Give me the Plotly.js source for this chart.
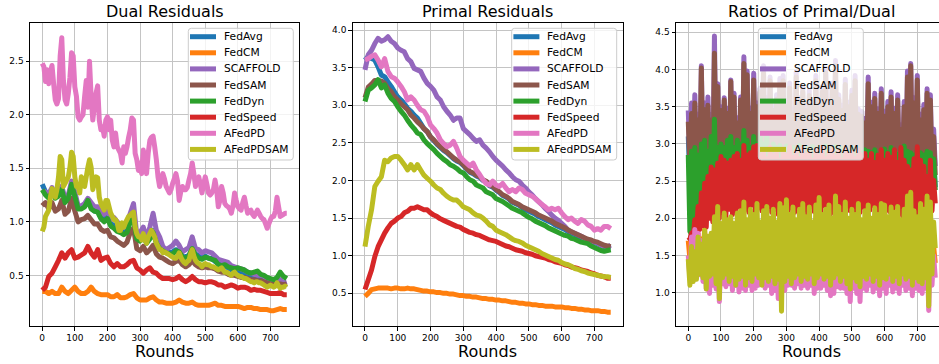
<!DOCTYPE html>
<html><head><meta charset="utf-8">
<script src="https://cdn.plot.ly/plotly-3.0.1.min.js"></script>
<style>
html,body{margin:0;padding:0;background:#fff}
#chart{width:939px;height:364px}
.js-line{stroke-linejoin:round !important}
</style>
</head><body><div id="chart"></div>
<script>
// ---------------- names / colours ----------------
const methods = ['FedAvg','FedCM','SCAFFOLD','FedSAM','FedDyn','FedSpeed','AFedPD','AFedPDSAM'];
const colors  = ['#1f77b4','#ff7f0e','#9467bd','#8c564b','#2ca02c','#d62728','#e377c2','#bcbd22'];
const panelTitles = ['Dual Residuals','Primal Residuals','Ratios of Primal/Dual'];
const xLabel = 'Rounds';
const roundTicks = [0,100,200,300,400,500,600,700];
const dualTicks = [0.5,1.0,1.5,2.0,2.5];
const primalTicks = [0.5,1.0,1.5,2.0,2.5,3.0,3.5,4.0];
const ratioTicks = [1.0,1.5,2.0,2.5,3.0,3.5,4.0,4.5];

// rounds sampled every 10 / every 5
const rounds10 = []; for (let r = 0; r <= 750; r += 10) rounds10.push(r);
const rounds5 = [];  for (let r = 0; r <= 750; r += 5) rounds5.push(r);

// ---------------- Dual residuals ----------------
const dualFedAvg = [1.35,1.28,1.25,1.30,1.23,1.25,1.30,1.20,1.23,1.35,
 1.25,1.13,1.13,1.15,1.20,1.14,1.10,1.10,1.04,1.02,
 1.05,0.98,0.97,0.93,0.92,0.90,0.92,1.02,1.06,0.85,
 0.83,0.88,0.81,0.86,0.92,0.82,0.77,0.74,0.72,0.71,
 0.72,0.74,0.73,0.68,0.67,0.69,0.74,0.70,0.68,0.66,
 0.68,0.66,0.66,0.63,0.61,0.60,0.59,0.57,0.55,0.54,
 0.53,0.52,0.51,0.50,0.49,0.48,0.47,0.47,0.46,0.44,
 0.43,0.42,0.42,0.43,0.41,0.42];
const dualFedCM = [0.35,0.35,0.33,0.35,0.33,0.33,0.39,0.35,0.33,0.36,
 0.39,0.35,0.33,0.33,0.35,0.39,0.35,0.33,0.32,0.32,
 0.32,0.30,0.30,0.32,0.29,0.29,0.30,0.32,0.33,0.29,
 0.27,0.27,0.27,0.29,0.30,0.27,0.25,0.25,0.24,0.24,
 0.24,0.25,0.27,0.25,0.24,0.24,0.25,0.23,0.22,0.22,
 0.22,0.22,0.23,0.24,0.22,0.22,0.21,0.21,0.21,0.21,
 0.21,0.20,0.19,0.20,0.20,0.19,0.19,0.18,0.18,0.18,
 0.17,0.17,0.18,0.19,0.18,0.18];
const dualSCAFFOLD = [1.28,1.28,1.26,1.32,1.25,1.27,1.33,1.22,1.25,1.38,
 1.28,1.15,1.15,1.17,1.22,1.18,1.14,1.14,1.08,1.07,
 1.12,1.02,1.04,1.00,0.97,0.95,0.99,1.08,1.17,0.88,
 0.90,0.95,0.85,0.95,1.08,0.92,0.86,0.77,0.74,0.76,
 0.78,0.82,0.78,0.72,0.74,0.76,0.86,0.75,0.74,0.71,
 0.73,0.72,0.71,0.68,0.65,0.64,0.63,0.62,0.59,0.58,
 0.57,0.56,0.55,0.53,0.52,0.51,0.50,0.50,0.49,0.46,
 0.45,0.44,0.44,0.46,0.43,0.44];
const dualFedSAM = [1.15,1.18,1.12,1.18,1.10,1.12,1.20,1.07,1.10,1.22,
 1.10,1.00,1.02,1.03,1.06,1.02,0.98,0.98,0.93,0.91,
 0.92,0.86,0.85,0.82,0.80,0.78,0.81,0.90,0.94,0.75,
 0.73,0.77,0.71,0.74,0.78,0.70,0.67,0.66,0.64,0.62,
 0.61,0.63,0.64,0.60,0.58,0.60,0.64,0.60,0.58,0.57,
 0.58,0.57,0.57,0.56,0.54,0.53,0.53,0.51,0.50,0.50,
 0.49,0.48,0.48,0.47,0.46,0.46,0.45,0.45,0.44,0.43,
 0.42,0.42,0.41,0.42,0.41,0.42];
const dualFedDyn = [1.30,1.25,1.22,1.28,1.22,1.24,1.30,1.18,1.22,1.35,
 1.24,1.12,1.12,1.14,1.20,1.12,1.10,1.09,1.03,1.00,
 1.03,0.96,0.94,0.91,0.90,0.88,0.90,1.00,1.04,0.84,
 0.82,0.86,0.80,0.84,0.90,0.80,0.75,0.73,0.71,0.70,
 0.70,0.73,0.72,0.67,0.66,0.68,0.75,0.69,0.66,0.65,
 0.67,0.66,0.65,0.64,0.60,0.59,0.60,0.58,0.57,0.56,
 0.57,0.56,0.55,0.53,0.52,0.53,0.54,0.51,0.50,0.48,
 0.47,0.46,0.48,0.53,0.49,0.47];
const dualFedSpeed = [0.36,0.39,0.49,0.52,0.58,0.64,0.71,0.66,0.71,0.74,
 0.66,0.67,0.69,0.71,0.77,0.71,0.67,0.74,0.64,0.66,
 0.67,0.61,0.58,0.61,0.58,0.58,0.60,0.63,0.64,0.57,
 0.55,0.52,0.55,0.57,0.53,0.52,0.49,0.47,0.47,0.47,
 0.46,0.47,0.49,0.46,0.44,0.46,0.49,0.46,0.44,0.44,
 0.43,0.44,0.44,0.43,0.41,0.41,0.39,0.40,0.41,0.40,
 0.38,0.39,0.39,0.38,0.36,0.37,0.36,0.36,0.35,0.34,
 0.33,0.33,0.33,0.34,0.32,0.32];
// sampled every 5 rounds
const dualAFedPD = [2.48,2.45,2.31,2.42,2.29,2.40,2.46,2.29,2.14,2.10,
 2.15,2.55,2.72,2.32,2.14,2.10,2.20,2.35,2.58,2.55,
 2.26,2.17,1.98,1.95,1.98,2.00,2.17,2.32,2.07,2.50,
 2.17,1.95,2.07,2.20,2.27,1.95,1.86,1.89,1.80,1.95,
 1.98,1.86,1.95,1.76,1.70,1.83,1.70,1.67,1.64,1.55,
 1.70,1.64,1.70,1.79,1.86,1.97,1.95,1.64,1.58,1.48,
 1.55,1.45,1.67,1.58,1.45,1.64,1.76,1.79,1.80,1.70,
 1.58,1.42,1.33,1.38,1.45,1.40,1.33,1.30,1.27,1.30,
 1.36,1.40,1.45,1.38,1.20,1.28,1.33,1.30,1.30,1.32,
 1.39,1.45,1.55,1.45,1.33,1.38,1.42,1.35,1.27,1.35,
 1.42,1.35,1.27,1.25,1.27,1.30,1.39,1.30,1.14,1.20,
 1.33,1.27,1.17,1.15,1.14,1.12,1.08,1.15,1.27,1.20,
 1.14,1.12,1.11,1.18,1.23,1.15,1.08,1.10,1.11,1.07,
 1.05,1.08,1.11,1.08,1.05,1.03,1.02,0.98,0.94,0.98,
 1.02,1.05,1.05,1.10,1.23,1.14,1.05,1.06,1.07,1.08,
 1.08];
const dualAFedPDSAM = [0.91,0.95,1.05,1.08,1.11,1.23,1.31,1.27,1.23,1.30,
 1.42,1.61,1.58,1.33,1.36,1.39,1.42,1.51,1.65,1.61,
 1.42,1.33,1.33,1.27,1.42,1.39,1.33,1.42,1.51,1.58,
 1.51,1.30,1.36,1.42,1.41,1.23,1.17,1.14,1.11,1.20,
 1.20,1.14,1.08,1.05,1.02,1.02,0.99,0.92,0.92,0.99,
 0.95,0.99,1.02,1.05,1.06,1.08,1.09,0.95,0.89,0.86,
 0.86,0.83,0.89,0.83,0.80,0.86,0.89,0.92,0.89,0.86,
 0.80,0.77,0.74,0.74,0.71,0.72,0.71,0.70,0.69,0.68,
 0.67,0.66,0.66,0.68,0.71,0.67,0.64,0.62,0.61,0.63,
 0.64,0.70,0.74,0.68,0.64,0.62,0.61,0.60,0.58,0.60,
 0.61,0.60,0.60,0.59,0.58,0.58,0.57,0.56,0.55,0.56,
 0.57,0.55,0.53,0.53,0.52,0.51,0.50,0.52,0.53,0.51,
 0.50,0.49,0.49,0.48,0.47,0.47,0.46,0.45,0.44,0.44,
 0.43,0.44,0.44,0.43,0.43,0.42,0.41,0.40,0.39,0.40,
 0.41,0.40,0.39,0.40,0.43,0.40,0.38,0.39,0.39,0.40,
 0.39];

// ---------------- Primal residuals (every 10 rounds) ----------------
const primalFedAvg = [3.60,3.65,3.62,3.60,3.51,3.40,3.38,3.31,3.25,3.18,
 3.11,3.07,3.02,2.96,2.92,2.87,2.83,2.76,2.69,2.65,
 2.58,2.53,2.48,2.44,2.40,2.37,2.33,2.29,2.26,2.24,
 2.20,2.15,2.11,2.09,2.06,2.04,2.00,1.98,1.93,1.91,
 1.87,1.84,1.80,1.78,1.75,1.71,1.69,1.67,1.64,1.61,
 1.59,1.57,1.55,1.52,1.50,1.48,1.46,1.44,1.41,1.39,
 1.37,1.35,1.32,1.30,1.28,1.26,1.24,1.22,1.20,1.19,
 1.17,1.16,1.14,1.12,1.11,1.10];
const primalFedCM = [0.46,0.50,0.55,0.56,0.57,0.57,0.57,0.57,0.56,0.57,
 0.57,0.56,0.56,0.57,0.56,0.56,0.55,0.54,0.53,0.53,
 0.52,0.52,0.51,0.51,0.50,0.50,0.49,0.49,0.48,0.47,
 0.47,0.46,0.46,0.45,0.45,0.44,0.43,0.43,0.42,0.42,
 0.41,0.41,0.40,0.40,0.39,0.38,0.38,0.37,0.37,0.36,
 0.36,0.35,0.35,0.34,0.34,0.33,0.33,0.33,0.32,0.32,
 0.32,0.31,0.31,0.30,0.30,0.29,0.29,0.28,0.28,0.27,
 0.27,0.27,0.26,0.26,0.25,0.25];
const primalSCAFFOLD = [3.47,3.67,3.73,3.82,3.89,3.85,3.87,3.91,3.85,3.82,
 3.76,3.73,3.71,3.62,3.58,3.49,3.47,3.45,3.36,3.29,
 3.25,3.20,3.11,3.07,2.98,2.92,2.87,2.80,2.83,2.83,
 2.69,2.65,2.61,2.56,2.52,2.54,2.47,2.43,2.38,2.32,
 2.27,2.23,2.19,2.14,2.10,2.05,2.01,1.99,1.94,1.90,
 1.85,1.81,1.76,1.72,1.68,1.63,1.59,1.54,1.50,1.47,
 1.43,1.39,1.34,1.32,1.30,1.28,1.26,1.23,1.21,1.20,
 1.18,1.17,1.14,1.13,1.12,1.14];
const primalFedSAM = [3.10,3.24,3.28,3.33,3.33,3.32,3.29,3.22,3.18,3.11,
 3.07,3.02,2.98,2.94,2.87,2.83,2.78,2.74,2.69,2.65,
 2.58,2.54,2.49,2.45,2.41,2.38,2.34,2.30,2.27,2.25,
 2.21,2.16,2.12,2.10,2.07,2.05,2.01,1.99,1.94,1.92,
 1.88,1.85,1.81,1.79,1.76,1.72,1.70,1.68,1.65,1.63,
 1.61,1.59,1.57,1.54,1.52,1.50,1.48,1.46,1.43,1.41,
 1.39,1.37,1.34,1.32,1.30,1.28,1.26,1.24,1.22,1.21,
 1.19,1.18,1.16,1.14,1.13,1.12];
const primalFedDyn = [3.05,3.20,3.23,3.27,3.34,3.23,3.27,3.16,3.09,3.05,
 2.98,2.92,2.87,2.80,2.74,2.69,2.63,2.61,2.54,2.49,
 2.45,2.41,2.36,2.32,2.28,2.25,2.21,2.19,2.16,2.12,
 2.10,2.05,2.01,1.99,1.94,1.92,1.90,1.85,1.83,1.81,
 1.76,1.74,1.72,1.69,1.66,1.63,1.61,1.59,1.57,1.54,
 1.51,1.49,1.46,1.44,1.42,1.40,1.37,1.35,1.33,1.31,
 1.29,1.27,1.26,1.23,1.22,1.20,1.18,1.17,1.16,1.13,
 1.11,1.09,1.07,1.06,1.07,1.08];
const primalFedSpeed = [0.55,0.68,0.81,0.99,1.12,1.21,1.30,1.37,1.43,1.46,
 1.50,1.52,1.57,1.59,1.63,1.63,1.65,1.63,1.61,1.61,
 1.57,1.54,1.52,1.49,1.47,1.45,1.43,1.41,1.39,1.38,
 1.35,1.33,1.31,1.30,1.28,1.27,1.25,1.23,1.21,1.20,
 1.19,1.17,1.15,1.13,1.12,1.10,1.08,1.07,1.06,1.04,
 1.03,1.02,1.00,0.99,0.98,0.97,0.95,0.94,0.92,0.91,
 0.90,0.88,0.87,0.85,0.84,0.83,0.81,0.80,0.79,0.77,
 0.76,0.74,0.73,0.72,0.70,0.70];
const primalAFedPD = [3.60,3.62,3.65,3.67,3.60,3.51,3.62,3.45,3.38,3.36,
 3.31,3.25,3.18,3.07,3.11,3.07,3.00,2.94,2.92,2.85,
 2.74,2.69,2.63,2.54,2.49,2.45,2.47,2.52,2.43,2.32,
 2.27,2.23,2.19,2.23,2.14,2.08,2.01,1.96,1.94,1.99,
 1.94,1.92,1.96,1.90,1.85,1.88,1.85,1.90,1.88,1.83,
 1.81,1.79,1.76,1.72,1.68,1.65,1.61,1.63,1.61,1.63,
 1.57,1.52,1.48,1.50,1.46,1.43,1.48,1.46,1.41,1.39,
 1.34,1.36,1.34,1.39,1.39,1.36];
const primalAFedPDSAM = [1.12,1.39,1.61,1.92,1.99,2.05,2.27,2.25,2.30,2.32,
 2.32,2.27,2.21,2.14,2.21,2.14,2.21,2.14,2.07,2.03,
 1.99,1.94,1.90,1.88,1.83,1.79,1.76,1.74,1.74,1.70,
 1.65,1.63,1.61,1.57,1.54,1.53,1.50,1.46,1.41,1.39,
 1.34,1.32,1.30,1.28,1.25,1.22,1.20,1.19,1.17,1.14,
 1.12,1.10,1.08,1.06,1.03,1.01,0.99,0.97,0.95,0.94,
 0.91,0.89,0.88,0.86,0.83,0.82,0.80,0.79,0.77,0.76,
 0.75,0.74,0.73,0.72,0.72,0.71];

// ---------------- Ratios primal/dual: peaks (rounds 0,10,..) and troughs (rounds 5,15,..) ----------------
const ratioFedAvgHigh = [3.10,3.05,3.20,3.00,3.30,3.10,3.15,3.00,3.35,3.20,
 3.05,3.15,3.00,3.25,3.10,3.00,3.15,3.30,3.20,3.05,
 3.20,3.10,3.15,3.30,3.05,3.20,3.00,3.10,3.20,3.25,
 3.05,3.15,3.00,3.25,3.10,3.15,3.05,3.10,3.00,3.20,
 3.00,3.10,3.25,3.05,3.15,3.30,3.10,3.00,3.20,3.05,
 3.10,3.20,3.00,3.00,2.95,3.20,3.05,3.10,3.00,3.15,
 3.00,3.05,3.15,3.00,3.10,2.95,3.05,3.20,3.30,3.05,
 3.20,2.95,3.00,3.15,3.10,2.85];
const ratioFedAvgLow = [2.50,2.45,2.55,2.42,2.48,2.52,2.40,2.50,2.46,2.55,
 2.44,2.50,2.58,2.42,2.47,2.53,2.41,2.49,2.55,2.45,
 2.50,2.43,2.52,2.47,2.40,2.55,2.48,2.44,2.51,2.46,
 2.42,2.53,2.49,2.45,2.56,2.41,2.50,2.47,2.43,2.52,
 2.48,2.44,2.55,2.46,2.42,2.51,2.49,2.45,2.53,2.40,
 2.50,2.47,2.44,2.52,2.46,2.42,2.55,2.48,2.44,2.50,
 2.47,2.43,2.53,2.45,2.49,2.41,2.51,2.46,2.44,2.52,
 2.48,2.43,2.50,2.45,2.47,2.42];
const ratioFedCMHigh = [1.70,1.75,1.65,1.80,1.72,1.85,1.68,1.78,1.82,1.90,
 1.74,1.80,1.70,1.85,1.76,1.68,1.82,1.88,1.72,1.80,
 1.75,1.86,1.70,1.78,1.84,1.72,1.80,1.68,1.85,1.78,
 1.90,1.74,1.82,1.70,1.80,1.86,1.72,1.78,1.68,1.84,
 1.88,1.74,1.80,1.85,1.70,1.90,1.78,1.72,1.86,1.70,
 1.80,1.74,1.84,1.68,1.78,1.82,1.70,1.80,1.74,1.85,
 1.86,1.72,1.80,1.76,1.84,1.68,1.78,1.88,1.90,1.75,
 1.70,1.82,1.76,1.85,1.80,1.62];
const ratioFedCMLow = [1.45,1.40,1.50,1.42,1.48,1.38,1.52,1.44,1.40,1.47,
 1.50,1.42,1.38,1.46,1.53,1.41,1.45,1.49,1.40,1.44,
 1.51,1.43,1.47,1.39,1.45,1.50,1.42,1.46,1.40,1.48,
 1.44,1.52,1.41,1.47,1.43,1.38,1.49,1.45,1.42,1.50,
 1.46,1.40,1.48,1.43,1.51,1.39,1.45,1.47,1.41,1.44,
 1.50,1.42,1.46,1.38,1.49,1.44,1.40,1.47,1.43,1.52,
 1.45,1.41,1.48,1.44,1.39,1.46,1.50,1.42,1.45,1.40,
 1.47,1.43,1.38,1.46,1.42,1.40];
const ratioSCAFFOLDHigh = [3.45,3.55,3.66,3.40,4.05,3.55,3.63,3.40,4.45,3.81,
 3.50,3.62,3.48,3.86,3.68,3.35,3.63,4.17,3.98,3.48,
 3.95,3.55,3.75,4.05,3.62,3.90,3.52,3.66,3.88,3.92,
 3.58,3.82,3.46,3.97,3.62,3.76,3.52,3.72,3.56,3.92,
 3.47,3.77,4.02,3.57,3.82,4.12,3.66,3.52,3.87,3.56,
 3.72,3.92,3.47,3.44,3.34,3.90,3.56,3.68,3.47,3.74,
 3.44,3.57,3.70,3.48,3.66,3.25,3.57,3.98,4.08,3.62,
 3.92,3.40,3.53,3.74,3.66,3.20];
const ratioSCAFFOLDLow = [2.75,2.65,2.70,2.60,2.72,2.58,2.68,2.62,2.74,2.66,
 2.60,2.70,2.64,2.76,2.58,2.68,2.62,2.72,2.66,2.60,
 2.70,2.64,2.58,2.74,2.66,2.62,2.70,2.60,2.68,2.64,
 2.72,2.58,2.66,2.70,2.62,2.74,2.60,2.68,2.64,2.70,
 2.58,2.66,2.72,2.62,2.68,2.60,2.74,2.64,2.70,2.58,
 2.66,2.62,2.72,2.68,2.60,2.70,2.64,2.58,2.74,2.66,
 2.62,2.70,2.60,2.68,2.64,2.72,2.58,2.66,2.70,2.62,
 2.68,2.60,2.74,2.64,2.66,2.70];
const ratioFedSAMHigh = [3.30,3.41,3.55,3.32,4.02,3.46,3.52,3.32,4.22,3.77,
 3.45,3.59,3.41,3.84,3.63,3.28,3.59,4.08,3.93,3.41,
 3.86,3.50,3.70,3.95,3.55,3.85,3.45,3.60,3.80,3.85,
 3.50,3.75,3.40,3.90,3.55,3.70,3.45,3.65,3.50,3.85,
 3.40,3.70,3.95,3.50,3.75,4.05,3.60,3.45,3.80,3.50,
 3.65,3.85,3.40,3.37,3.28,3.81,3.50,3.61,3.41,3.68,
 3.37,3.50,3.63,3.41,3.59,3.19,3.50,3.90,4.05,3.55,
 3.86,3.32,3.46,3.68,3.59,3.10];
const ratioFedSAMLow = [2.70,2.60,2.55,2.66,2.50,2.62,2.56,2.47,2.61,2.52,
 2.57,2.67,2.49,2.60,2.54,2.46,2.63,2.55,2.51,2.66,
 2.53,2.48,2.61,2.45,2.57,2.64,2.50,2.59,2.55,2.48,
 2.62,2.46,2.56,2.65,2.51,2.58,2.54,2.49,2.61,2.45,
 2.56,2.66,2.52,2.60,2.53,2.48,2.62,2.47,2.57,2.64,
 2.50,2.59,2.55,2.49,2.61,2.46,2.56,2.65,2.51,2.60,
 2.54,2.50,2.62,2.47,2.57,2.66,2.52,2.60,2.55,2.48,
 2.61,2.46,2.56,2.64,2.52,2.58];
const ratioFedDynHigh = [2.85,2.90,2.95,2.85,3.00,3.05,2.90,3.10,3.33,2.95,
 3.00,2.95,3.05,3.10,2.95,3.05,3.00,3.18,3.05,2.95,
 3.10,3.00,3.12,3.00,3.10,2.95,3.00,2.95,2.98,2.92,
 2.97,2.90,2.95,2.92,2.98,2.90,2.95,2.92,2.96,2.90,
 2.95,2.92,2.97,2.90,2.93,2.96,2.90,2.94,2.92,2.88,
 2.95,2.90,2.93,2.88,2.92,2.90,2.88,2.92,2.86,2.90,
 2.93,2.88,2.95,2.90,2.86,2.92,2.97,2.90,2.88,2.85,
 2.92,2.88,2.85,2.90,2.88,2.80];
const ratioFedDynLow = [1.82,1.88,1.95,2.05,2.10,2.15,2.20,2.25,2.28,2.30,
 2.35,2.32,2.40,2.36,2.33,2.42,2.38,2.34,2.41,2.37,
 2.33,2.40,2.36,2.43,2.35,2.38,2.32,2.41,2.37,2.34,
 2.42,2.36,2.39,2.33,2.40,2.35,2.43,2.37,2.34,2.41,
 2.38,2.32,2.40,2.36,2.42,2.34,2.39,2.37,2.33,2.41,
 2.36,2.40,2.34,2.42,2.38,2.33,2.40,2.36,2.43,2.35,
 2.39,2.32,2.41,2.37,2.34,2.40,2.36,2.42,2.35,2.38,
 2.33,2.41,2.37,2.34,2.40,2.38];
const ratioFedSpeedHigh = [1.70,1.80,1.98,2.16,2.34,2.47,2.56,2.69,2.65,2.74,
 2.83,2.78,2.74,2.78,2.83,2.87,2.78,2.98,2.85,2.88,
 2.96,2.98,2.85,2.92,2.80,2.95,2.85,2.90,2.78,2.93,
 2.85,2.96,2.82,2.90,2.80,2.94,2.85,2.88,2.78,2.92,
 2.83,2.95,2.80,2.88,2.92,2.82,2.90,2.78,2.94,2.85,
 2.88,2.80,2.92,2.85,2.87,2.78,2.87,2.75,2.85,2.92,
 2.78,2.87,2.82,2.92,2.75,2.95,2.78,2.70,2.65,2.80,
 2.96,2.78,2.70,2.56,2.78,2.51];
const ratioFedSpeedLow = [1.72,1.75,1.80,1.85,1.90,1.88,2.00,1.95,2.05,2.00,
 2.08,2.02,2.12,2.05,2.10,2.15,2.04,2.12,2.08,2.18,
 2.06,2.14,2.10,2.03,2.16,2.08,2.12,2.05,2.18,2.10,
 2.04,2.14,2.08,2.16,2.06,2.12,2.02,2.15,2.09,2.13,
 2.05,2.17,2.10,2.06,2.14,2.08,2.12,2.04,2.16,2.10,
 2.06,2.13,2.08,2.15,2.05,2.11,2.17,2.07,2.12,2.04,
 2.14,2.09,2.06,2.16,2.10,2.03,2.13,2.08,2.15,2.05,
 2.11,2.07,2.14,2.02,2.10,2.20];
const ratioAFedPDHigh = [1.50,1.75,1.85,1.80,1.70,1.62,1.58,1.55,1.60,1.52,
 1.58,1.50,1.62,1.55,1.48,1.60,1.54,1.50,1.58,1.62,
 1.52,1.56,1.50,1.60,1.55,1.48,1.58,1.52,1.62,1.50,
 1.56,1.60,1.52,1.48,1.58,1.54,1.62,1.50,1.56,1.60,
 1.52,1.58,1.48,1.55,1.62,1.50,1.56,1.52,1.60,1.54,
 1.48,1.58,1.62,1.50,1.55,1.60,1.52,1.56,1.48,1.58,
 1.62,1.54,1.50,1.58,1.52,1.60,1.55,1.48,1.56,1.62,
 1.52,1.58,1.50,1.55,1.60,1.50];
const ratioAFedPDLow = [1.20,1.22,1.26,1.24,1.15,1.05,0.99,1.10,1.05,0.88,
 1.12,1.08,1.12,1.03,1.10,1.01,1.06,1.03,1.10,1.03,
 1.06,1.10,1.17,1.06,1.10,0.99,1.03,0.92,1.06,1.03,
 1.10,1.10,1.06,1.12,1.06,1.10,1.06,1.10,0.99,1.06,
 1.06,1.10,1.03,0.96,0.99,1.08,1.06,1.06,0.99,0.88,
 1.06,0.99,0.88,1.06,1.03,1.10,1.01,1.06,0.96,1.06,
 0.99,1.10,1.01,1.06,0.99,1.10,1.03,1.06,0.96,1.06,
 1.03,0.99,1.06,0.76,1.10,1.20];
const ratioAFedPDSAMHigh = [1.45,1.62,1.55,1.75,1.65,1.84,1.76,1.80,2.02,2.16,
 1.93,2.07,1.98,2.02,1.93,2.07,2.10,2.22,1.98,2.12,
 2.05,2.20,1.95,2.10,2.16,2.00,2.12,1.95,2.20,2.14,
 2.25,2.05,2.15,1.98,2.12,2.20,2.02,2.15,1.95,2.18,
 2.28,2.05,2.12,2.18,2.00,2.30,2.16,2.05,2.22,2.00,
 2.12,2.05,2.20,1.98,2.10,2.18,2.00,2.14,2.05,2.20,
 2.18,2.02,2.15,2.08,2.16,1.98,2.12,2.30,2.35,2.10,
 2.02,2.20,2.12,2.30,2.22,1.95];
const ratioAFedPDSAMLow = [1.10,1.15,1.18,1.25,1.20,1.05,1.22,1.25,1.12,0.92,
 1.20,1.25,1.15,1.22,1.10,1.18,1.22,1.10,1.20,1.15,
 1.25,1.20,1.10,1.20,1.15,1.22,1.12,1.18,0.75,1.15,
 1.22,1.12,1.20,1.25,1.15,1.22,1.18,1.25,1.12,1.20,
 1.25,1.18,1.22,1.10,1.20,1.25,1.15,1.22,1.12,1.05,
 1.20,1.15,1.08,1.22,1.18,1.25,1.15,1.22,1.10,1.20,
 1.18,1.25,1.15,1.22,1.12,1.25,1.18,1.22,1.10,1.20,
 1.15,1.12,1.20,0.82,1.25,1.60];

// ---------------- assemble ----------------
const W = 939, H = 364;
const PX = v => v / W, PY = v => 1 - v / H;
const FONT = 'DejaVu Sans';

function interleave(hi, lo){ const y=[]; for(let i=0;i<hi.length;i++){ y.push(hi[i]); y.push(lo[i]); } return y; }
const ratioRounds = []; for (let i=0;i<rounds10.length;i++){ ratioRounds.push(rounds10[i]); ratioRounds.push(rounds10[i]+5); }

const dualSeries = [[rounds10,dualFedAvg],[rounds10,dualFedCM],[rounds10,dualSCAFFOLD],[rounds10,dualFedSAM],
  [rounds10,dualFedDyn],[rounds10,dualFedSpeed],[rounds5,dualAFedPD],[rounds5,dualAFedPDSAM]];
const primalSeries = [primalFedAvg,primalFedCM,primalSCAFFOLD,primalFedSAM,primalFedDyn,primalFedSpeed,primalAFedPD,primalAFedPDSAM].map(v=>[rounds10,v]);
const ratioSeries = [[ratioFedAvgHigh,ratioFedAvgLow],[ratioFedCMHigh,ratioFedCMLow],[ratioSCAFFOLDHigh,ratioSCAFFOLDLow],
  [ratioFedSAMHigh,ratioFedSAMLow],[ratioFedDynHigh,ratioFedDynLow],[ratioFedSpeedHigh,ratioFedSpeedLow],
  [ratioAFedPDHigh,ratioAFedPDLow],[ratioAFedPDSAMHigh,ratioAFedPDSAMLow]].map(p=>[ratioRounds, interleave(p[0],p[1])]);
const allSeries = [dualSeries, primalSeries, ratioSeries];

const panels = [
  {xd:[30/W, 299/W], xr:[-37.5,787.5], yr:[0.027,2.854], yt:dualTicks,   mirrorY:true,  cx:164.5, legL:188.3},
  {xd:[352.7/W, 623/W], xr:[-37.5,787.5], yr:[0.066,4.089], yt:primalTicks, mirrorY:true,  cx:487.8, legL:511.7},
  {xd:[676/W, 1], xr:[-37.5,766.4], yr:[0.552,4.621], yt:ratioTicks,  mirrorY:false, cx:811.3, legL:758.3}
];
const yDom = [PY(326), PY(23.3)];

const traces = [];
const layout = {width:W, height:H, margin:{l:0,r:0,t:0,b:0}, paper_bgcolor:'#fff', plot_bgcolor:'#fff',
  showlegend:false, hovermode:false, shapes:[], annotations:[], font:{family:FONT, color:'#000'}};

function rr(l,t,r,b,k){
  const X=v=>(v/W).toFixed(5), Y=v=>(1-v/H).toFixed(5);
  return `M${X(l+k)},${Y(t)} L${X(r-k)},${Y(t)} Q${X(r)},${Y(t)} ${X(r)},${Y(t+k)} L${X(r)},${Y(b-k)} Q${X(r)},${Y(b)} ${X(r-k)},${Y(b)} L${X(l+k)},${Y(b)} Q${X(l)},${Y(b)} ${X(l)},${Y(b-k)} L${X(l)},${Y(t+k)} Q${X(l)},${Y(t)} ${X(l+k)},${Y(t)} Z`;
}

panels.forEach((p, k) => {
  const n = k + 1, xa = 'xaxis' + (k ? n : ''), ya = 'yaxis' + (k ? n : '');
  const common = {ticks:'outside', ticklen:3.5, tickwidth:1, tickcolor:'#000', showline:true, linecolor:'#000', linewidth:1,
    showgrid:true, gridcolor:'#c4c4c4', gridwidth:1, zeroline:false, fixedrange:true,
    tickfont:{family:FONT, size:9, color:'#000'}};
  layout[xa] = Object.assign({}, common, {domain:p.xd, range:p.xr, tickmode:'array', tickvals:roundTicks,
    mirror:true, anchor:'y'+(k?n:'')});
  layout[ya] = Object.assign({}, common, {domain:yDom, range:p.yr, tickmode:'array', tickvals:p.yt,
    ticktext:p.yt.map(v=>v.toFixed(1)), mirror:p.mirrorY, anchor:'x'+(k?n:'')});
  allSeries[k].forEach((s, i) => {
    traces.push({type:'scatter', mode:'lines', x:s[0], y:s[1], name:methods[i],
      xaxis:'x'+(k?n:''), yaxis:'y'+(k?n:''), line:{color:colors[i], width:5, simplify:false}, hoverinfo:'skip'});
  });
  // subplot title and x label
  layout.annotations.push({xref:'paper', yref:'paper', x:PX(p.cx), y:PY(11.5), xanchor:'center', yanchor:'middle',
    text:panelTitles[k], showarrow:false, font:{family:FONT, size:16, color:'#000'}});
  layout.annotations.push({xref:'paper', yref:'paper', x:PX(p.cx), y:PY(351), xanchor:'center', yanchor:'middle',
    text:xLabel, showarrow:false, font:{family:FONT, size:16, color:'#000'}});
  // legend box
  const L = p.legL, T = 28.3, R = L + 105, B = 160;
  layout.shapes.push({type:'path', xref:'paper', yref:'paper', path:rr(L,T,R,B,3),
    fillcolor:'rgba(255,255,255,0.8)', line:{color:'#cccccc', width:1}, layer:'above'});
  methods.forEach((m, i) => {
    const yy = 36.7 + 16.1 * i;
    layout.shapes.push({type:'line', xref:'paper', yref:'paper', x0:PX(L+1.7), x1:PX(L+27.7), y0:PY(yy), y1:PY(yy),
      line:{color:colors[i], width:5}, layer:'above'});
    layout.annotations.push({xref:'paper', yref:'paper', x:PX(L+33.4), y:PY(yy), xanchor:'left', yanchor:'middle',
      text:m, showarrow:false, font:{family:FONT, size:10.7, color:'#000'}});
  });
});

Plotly.newPlot('chart', traces, layout, {displayModeBar:false, staticPlot:true});
</script>
</body></html>
